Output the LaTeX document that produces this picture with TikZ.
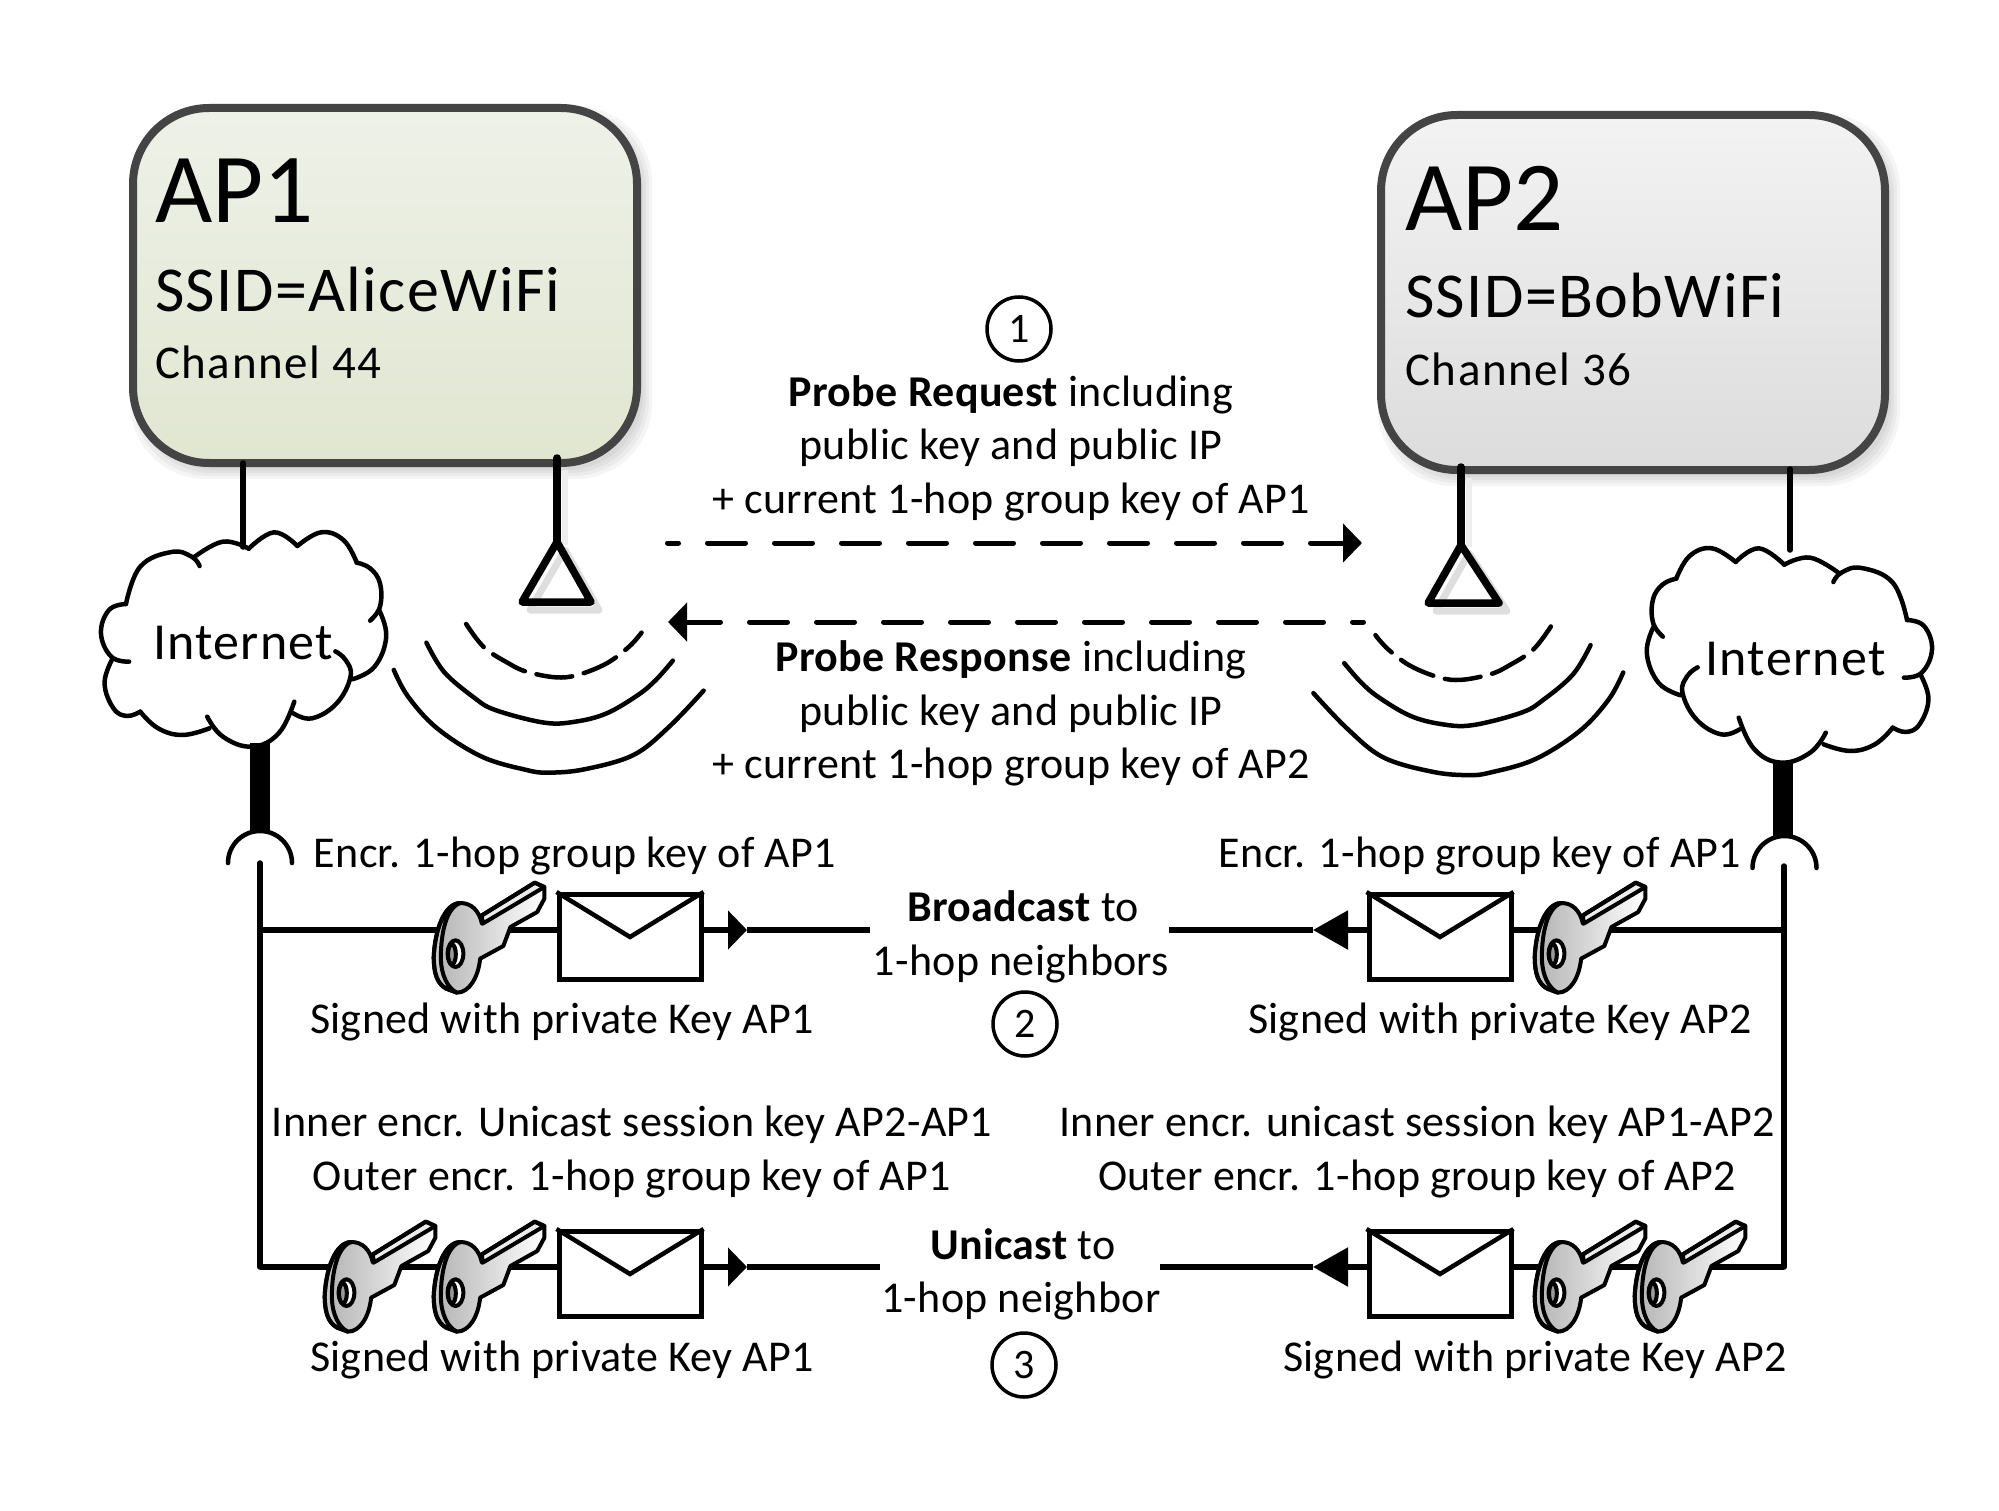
\documentclass[tikz,border=0pt]{standalone}
\usepackage{fontspec}
\setmainfont{Carlito}
\usetikzlibrary{arrows.meta,calc}
\definecolor{apAtop}{HTML}{EEF1E8}
\definecolor{apAbot}{HTML}{E1E6D1}
\definecolor{apBtop}{HTML}{F3F3F3}
\definecolor{apBbot}{HTML}{DCDCDC}
\definecolor{boxline}{HTML}{444444}
\tikzset{
  apbox/.style={draw=boxline,line width=8pt,rounded corners=76pt,minimum width=504pt,minimum height=355pt},
  softshadow/.style={fill=black,opacity=.04,rounded corners=76pt},
  txt/.style={anchor=base,inner sep=0pt,yshift=-3pt,font=\fontsize{44}{52}\selectfont\addfontfeature{LetterSpace=0.7}},
  txtl/.style={anchor=base west,inner sep=0pt},
  huge/.style={txtl,font=\fontsize{99}{110}\selectfont},
  mid/.style={txtl,font=\fontsize{64}{74}\selectfont\addfontfeature{LetterSpace=2.2}},
  small/.style={txtl,font=\fontsize{47}{55}\selectfont\addfontfeature{LetterSpace=3.3}},
  inet/.style={anchor=base,inner sep=0pt,font=\fontsize{52}{60}\selectfont\addfontfeature{LetterSpace=2.4}},
  num/.style={draw,circle,line width=3.5pt,minimum size=64pt,inner sep=0pt,font=\fontsize{42}{50}\selectfont},
  envelope/.style={draw,line width=5pt,fill=white,minimum width=142pt,minimum height=85pt,inner sep=0pt},
  flap/.style={line width=4.5pt,line join=miter},
  bus/.style={line width=5.5pt,line cap=butt},
  thin link/.style={line width=5.5pt,line cap=round},
  ant/.style={line width=7.5pt},
  thick link/.style={line width=20pt},
  cable/.style={line width=4.5pt,line cap=round},
  rtip/.style={-{Triangle[length=19pt,width=38pt]}},
  ltip/.style={-{Triangle[length=35pt,width=38pt]}},
  wave/.style={line width=4.5pt,line cap=round},
  dashline/.style={line width=5pt,line cap=round,dash pattern=on 38pt off 29pt,dash phase=27pt,-{Triangle[length=19pt,width=38pt]}},
  cloudicon/.pic={
    \begin{scope}[xscale=0.4464,yscale=0.3333,line width=4.5pt,line cap=round]
      \draw plot[smooth,tension=.7] coordinates {(268,348) (250,320) (205,306) (135,350) (103,462)};
      \draw plot[smooth,tension=.7] coordinates {(103,462) (65,480) (47,550) (70,620) (110,635)};
      \draw plot[smooth,tension=.7] coordinates {(72,628) (55,700) (75,775) (105,798) (135,785)};
      \draw plot[smooth,tension=.7] coordinates {(135,785) (175,835) (230,855) (290,835)};
      \draw plot[smooth,tension=.7] coordinates {(285,800) (320,860) (385,890) (445,850) (480,755)};
      \draw plot[smooth,tension=.7] coordinates {(478,790) (520,805) (575,760) (606,680) (595,630) (572,604)};
      \draw plot[smooth,tension=.7] coordinates {(610,688) (660,650) (686,560) (670,480)};
      \draw plot[smooth,tension=.7] coordinates {(650,512) (672,470) (672,400) (650,355) (620,338)};
      \draw plot[smooth,tension=.7] coordinates {(620,338) (590,270) (540,247) (487,288)};
      \draw plot[smooth,tension=.7] coordinates {(487,288) (435,247) (378,296)};
      \draw plot[smooth,tension=.7] coordinates {(378,296) (320,275) (255,322)};
    \end{scope}},
  waveicon/.pic={
    \begin{scope}[xscale=0.4464,yscale=0.3333]
      \draw[wave,dash pattern=on 36pt off 12pt,dash phase=7pt] plot[smooth,tension=.6] coordinates {(865,522) (905,592) (960,640) (1000,665) (1065,682) (1115,675) (1180,640) (1230,590) (1258,548)};
      \draw[wave] plot[smooth,tension=.6] coordinates {(776,578) (815,665) (880,740) (930,780) (1040,818) (1110,815) (1180,790) (1250,735) (1290,690) (1328,632)};
      \draw[wave] plot[smooth,tension=.6] coordinates {(703,660) (735,740) (800,835) (900,920) (1000,960) (1050,968) (1130,958) (1240,915) (1320,830) (1397,722)};
    \end{scope}},
  keyicon/.pic={
    \begin{scope}[xscale=0.357,yscale=0.3333,shift={(-263,-115)},line width=4pt,line join=round]
      \path[left color=black!30,right color=white]
        (400,240) .. controls (392,200) and (370,178) .. (340,178)
        .. controls (295,178) and (268,260) .. (265,340)
        .. controls (265,390) and (275,420) .. (300,435) -- (330,447)
        .. controls (365,447) and (390,400) .. (395,345)
        -- (460,307) -- (480,250) -- (555,205) -- (575,165) -- (575,130) -- (548,117) -- (400,215) -- cycle;
      \draw[fill=black!22] (340,178) .. controls (295,178) and (268,260) .. (265,340)
        .. controls (265,390) and (275,420) .. (300,435) -- (330,447)
        .. controls (305,435) and (285,395) .. (285,340)
        .. controls (285,270) and (300,190) .. (340,178) -- cycle;
      \draw[fill=black!8] (400,215) -- (548,117) -- (575,130) -- (402,240) -- cycle;
      \draw (400,240) .. controls (392,200) and (370,178) .. (340,178)
        .. controls (295,178) and (268,260) .. (265,340)
        .. controls (265,390) and (275,420) .. (300,435) -- (330,447)
        .. controls (365,447) and (390,400) .. (395,345)
        -- (460,307) -- (480,250) -- (555,205) -- (575,165) -- (575,130) -- (548,117) -- (400,215) -- cycle;
      \draw[fill=white] (326,330) ellipse[x radius=22,y radius=40];
      \draw[fill=black!40] (316,332) ellipse[x radius=11,y radius=30];
    \end{scope}}
}
\begin{document}
\begin{tikzpicture}[x=1pt,y=-1pt]
\useasboundingbox (0,0) rectangle (1999,1511);
\fill[white] (0,0) rectangle (1999,1511);

% Soft shadows of the access points
\foreach \g in {0,3,6,9}{
  \fill[softshadow] ({139-\g},{115-\g}) rectangle ({643+\g},{470+\g});
  \fill[softshadow] ({1387-\g},{122-\g}) rectangle ({1891+\g},{477+\g});
}

% Access points
\node[apbox,top color=apAtop,bottom color=apAbot] (ap1) at (385,285.5) {};
\node[apbox,top color=apBtop,bottom color=apBbot] (ap2) at (1633,292.5) {};
\node[huge] (ap1t) at (155,223) {AP1};
\node[mid] (ap1s) at (155,312) {SSID=AliceWiFi};
\node[small] (ap1c) at (155,378) {Channel 44};
\node[huge] (ap2t) at (1405,231) {AP2};
\node[mid] (ap2s) at (1405,318) {SSID=BobWiFi};
\node[small] (ap2c) at (1405,385) {Channel 36};

% Named connector ends
\coordinate (l1a) at (243,463);   \coordinate (l1b) at (243,547);
\coordinate (a1a) at (557,458);   \coordinate (a1b) at (557,542);
\coordinate (t1l) at (522,602);   \coordinate (t1r) at (591,602);
\coordinate (l2a) at (1790,469);  \coordinate (l2b) at (1790,550);
\coordinate (a2a) at (1461,467);  \coordinate (a2b) at (1461,545);
\coordinate (t2l) at (1428,603);  \coordinate (t2r) at (1499,603);
\coordinate (k1a) at (260,743);   \coordinate (k1b) at (260,832);
\coordinate (k2a) at (1783,762);  \coordinate (k2b) at (1783,837);
\coordinate (v1a) at (260,863);   \coordinate (v1b) at (260,1267);
\coordinate (v2a) at (1784,866);  \coordinate (v2b) at (1784,1267);
\coordinate (j1) at (260,930);    \coordinate (j2) at (1784,930);
\coordinate (b1e) at (870,930);   \coordinate (b2e) at (1169,930);
\coordinate (u1e) at (880,1267);  \coordinate (u2e) at (1160,1267);
\coordinate (tipb1) at (747,930); \coordinate (tipu1) at (747,1267);
\coordinate (tipb2) at (1313,930);\coordinate (tipu2) at (1313,1267);
\coordinate (da1) at (667.5,543); \coordinate (da2) at (1362,543);
\coordinate (db1) at (1363.5,622);\coordinate (db2) at (668,622);

% Antenna shadows
\draw[line width=6pt,black!7] (565,470) -- (565,545);
\draw[line width=7pt,black!13,line join=round] (565,550) -- (530,610) -- (599,610) -- cycle;
\draw[line width=6pt,black!7] (1469,478) -- (1469,547);
\draw[line width=7pt,black!13,line join=round] (1469,553) -- (1436,611) -- (1507,611) -- cycle;

% Links from the access points
\draw[thin link] (l1a) -- (l1b);
\draw[ant,line cap=round] (a1a) -- (a1b);
\draw[ant,line join=round] (a1b) -- (t1l) -- (t1r) -- cycle;
\draw[thin link] (l2a) -- (l2b);
\draw[ant,line cap=round] (a2a) -- (a2b);
\draw[ant,line join=round] (a2b) -- (t2l) -- (t2r) -- cycle;

% Clouds (the right one is a mirror image of the left one)
\pic at (80,450) {cloudicon};
\pic[xscale=-1] at (1953,466) {cloudicon};
\node[inet] (in1) at (243,659) {Internet};
\node[inet] (in2) at (1795.5,675) {Internet};

% Radio waves (mirrored on the right)
\pic at (80,450) {waveicon};
\pic[xscale=-1] at (1937,452.5) {waveicon};

% Probe arrows
\draw[dashline] (da1) -- (da2);
\draw[dashline] (db1) -- (db2);

% Wired back-haul
\draw[thick link] (k1a) -- (k1b);
\draw[thick link] (k2a) -- (k2b);
\draw[cable] (228,863) arc[start angle=180,end angle=360,radius=32];
\draw[cable] (1752.5,868) arc[start angle=180,end angle=360,radius=32];
\draw[bus,line cap=round] (v1a) -- (v1b);
\draw[bus,line cap=round] (v2a) -- (v2b);

% Envelopes
\node[envelope] (e1) at (630,937) {};
\node[envelope] (e2) at (1440,937) {};
\node[envelope] (e3) at (630,1274) {};
\node[envelope] (e4) at (1440,1274) {};

\draw[bus] (j1) -- (e1.west |- j1);
\draw[bus] (v1b) -- (e3.west |- v1b);
\draw[bus] (j2) -- (e2.east |- j2);
\draw[bus] (v2b) -- (e4.east |- v2b);
\draw[bus,rtip] (e1.east |- tipb1) -- (tipb1);
\draw[bus] (tipb1) -- (b1e);
\draw[bus,rtip] (e3.east |- tipu1) -- (tipu1);
\draw[bus] (tipu1) -- (u1e);
\draw[bus,ltip] (e2.west |- tipb2) -- (tipb2);
\draw[bus] (tipb2) -- (b2e);
\draw[bus,ltip] (e4.west |- tipu2) -- (tipu2);
\draw[bus] (tipu2) -- (u2e);

\draw[flap] (e1.north west) -- (e1.center) -- (e1.north east);
\draw[flap] (e2.north west) -- (e2.center) -- (e2.north east);
\draw[flap] (e3.north west) -- (e3.center) -- (e3.north east);
\draw[flap] (e4.north west) -- (e4.center) -- (e4.north east);

% Keys
\pic at (433,882) {keyicon};
\pic at (1534,882) {keyicon};
\pic at (324,1221) {keyicon};
\pic at (433,1221) {keyicon};
\pic at (1534,1221) {keyicon};
\pic at (1634,1221) {keyicon};

% Numbered circles
\node[num] (n1) at (1019,329) {1};
\node[num] (n2) at (1025,1024) {2};
\node[num] (n3) at (1024,1365) {3};

% Labels
\node[txt] (r1) at (1011,403) {\textbf{Probe Request} including};
\node[txt] (r2) at (1011,456) {public key and public IP};
\node[txt] (r3) at (1011,510) {+ current 1-hop group key of AP1};
\node[txt] (s1) at (1011,668) {\textbf{Probe Response} including};
\node[txt] (s2) at (1011,722) {public key and public IP};
\node[txt] (s3) at (1011,775) {+ current 1-hop group key of AP2};
\node[txt] (g1) at (575,864) {Encr. 1-hop group key of AP1};
\node[txt] (g2) at (1480,864) {Encr. 1-hop group key of AP1};
\node[txt] (c1) at (1023,918) {\textbf{Broadcast} to};
\node[txt] (c2) at (1021,972) {1-hop neighbors};
\node[txt] (p1) at (562,1030) {Signed with private Key AP1};
\node[txt] (p2) at (1500,1030) {Signed with private Key AP2};
\node[txt] (i1) at (632,1133) {Inner encr. Unicast session key AP2-AP1};
\node[txt] (o1) at (632,1187) {Outer encr. 1-hop group key of AP1};
\node[txt] (i2) at (1417,1133) {Inner encr. unicast session key AP1-AP2};
\node[txt] (o2) at (1417,1187) {Outer encr. 1-hop group key of AP2};
\node[txt] (d1) at (1023,1256) {\textbf{Unicast} to};
\node[txt] (d2) at (1021,1309) {1-hop neighbor};
\node[txt] (q1) at (562,1368) {Signed with private Key AP1};
\node[txt] (q2) at (1535,1368) {Signed with private Key AP2};
\end{tikzpicture}
\end{document}
